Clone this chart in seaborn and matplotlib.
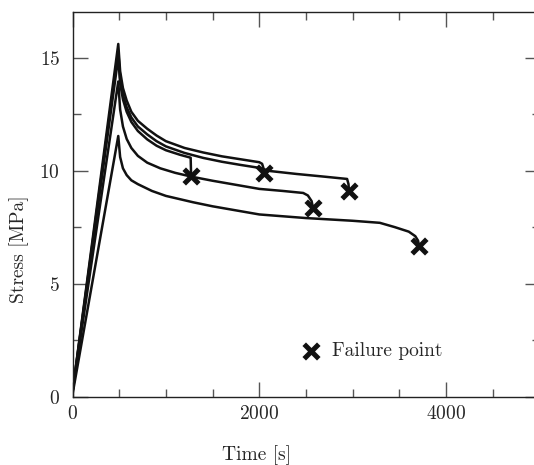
import numpy as np
import pandas as pd
import matplotlib
matplotlib.use("Agg")
import matplotlib.pyplot as plt
import seaborn as sns
from matplotlib.ticker import MultipleLocator

# ---- data ----
t_A = [0, 490, 510, 540, 580, 630, 700, 800, 900, 1000, 1200, 1400, 1600, 1800, 2000, 2030, 2045, 2050]
s_A = [0.2, 15.6, 14.4, 13.65, 13.1, 12.6, 12.2, 11.85, 11.55, 11.3, 11.0, 10.8, 10.63, 10.5, 10.37, 10.3, 10.1, 9.9]

t_B = [0, 490, 510, 540, 580, 630, 700, 800, 900, 1000, 1200, 1400, 1600, 1800, 2000, 2115, 2400, 2700, 2940, 2955, 2960]
s_B = [0.2, 15.3, 14.1, 13.35, 12.8, 12.35, 11.95, 11.6, 11.3, 11.07, 10.78, 10.56, 10.39, 10.25, 10.12, 9.98, 9.85, 9.73, 9.63, 9.4, 9.1]

t_C = [0, 490, 510, 540, 580, 630, 700, 800, 900, 1000, 1150, 1265, 1270]
s_C = [0.2, 15.0, 13.85, 13.15, 12.6, 12.15, 11.75, 11.38, 11.1, 10.9, 10.7, 10.57, 9.76]

t_D = [0, 490, 510, 540, 580, 630, 700, 800, 940, 1100, 1275, 1500, 1750, 2000, 2250, 2470, 2520, 2560, 2575]
s_D = [0.2, 13.94, 12.7, 11.95, 11.4, 11.0, 10.65, 10.35, 10.1, 9.9, 9.73, 9.55, 9.37, 9.19, 9.1, 9.01, 8.9, 8.65, 8.35]

t_E = [0, 490, 510, 540, 580, 630, 700, 755, 850, 1000, 1290, 1500, 2000, 2500, 3000, 3290, 3450, 3600, 3670, 3700, 3710]
s_E = [0.1, 11.53, 10.6, 10.1, 9.8, 9.57, 9.4, 9.29, 9.1, 8.88, 8.6, 8.42, 8.06, 7.9, 7.78, 7.69, 7.5, 7.3, 7.1, 6.9, 6.66]

fail_t = [2050, 2960, 1270, 2575, 3710]
fail_s = [9.9, 9.1, 9.76, 8.35, 6.66]

x_ticks = [0, 2000, 4000]
y_ticks = [0, 5, 10, 15]

# ---- build table ----
frames = []
for name, t, s in [("A", t_A, s_A), ("B", t_B, s_B), ("C", t_C, s_C), ("D", t_D, s_D), ("E", t_E, s_E)]:
    frames.append(pd.DataFrame({"time": t, "stress": s, "curve": name}))
df = pd.concat(frames, ignore_index=True)
fail_df = pd.DataFrame({"time": fail_t, "stress": fail_s})

sns.set_style("ticks")
plt.rcParams["font.family"] = ["cmr10", "DejaVu Serif"]
plt.rcParams["axes.formatter.use_mathtext"] = True
plt.rcParams["mathtext.fontset"] = "cm"

fig = plt.figure(figsize=(5.34, 4.65), dpi=100)
W, H = 534, 465
x0, x1, ytop, ybot = 72.5, 539.5, 12.3, 396.7
ax = fig.add_axes([x0 / W, 1 - ybot / H, (x1 - x0) / W, (ybot - ytop) / H])

sns.lineplot(data=df, x="time", y="stress", units="curve", estimator=None,
             sort=False, color="#111111", linewidth=1.8, ax=ax, legend=False)
sns.scatterplot(data=fail_df, x="time", y="stress", marker="x", s=110,
                linewidth=3.6, color="#111111", ax=ax, label="Failure point", zorder=5)

ax.set_xlim(0, 5000)
ax.set_ylim(0, 17)
ax.set_xticks(x_ticks)
ax.set_yticks(y_ticks)
ax.xaxis.set_minor_locator(MultipleLocator(500))
ax.yaxis.set_minor_locator(MultipleLocator(2.5))
ax.tick_params(which="both", direction="in", top=True, right=True, labelsize=14,
               color="#555555", width=1.0)
ax.tick_params(which="major", length=11)
ax.tick_params(which="minor", length=6)
ax.tick_params(axis="x", pad=6)
ax.tick_params(axis="y", pad=9)
for sp in ax.spines.values():
    sp.set_linewidth(1.0)
    sp.set_color("#222222")

ax.set_xlabel("Time [s]", fontsize=14)
ax.set_ylabel("Stress [MPa]", fontsize=14)
ax.xaxis.set_label_coords((256 - x0) / (x1 - x0), (ybot - 445) / (ybot - ytop))
ax.yaxis.set_label_coords((29 - x0) / (x1 - x0), (ybot - 249) / (ybot - ytop))

leg = ax.legend(loc="center left", bbox_to_anchor=((301 - x0) / (x1 - x0), (ybot - 351) / (ybot - ytop)),
                frameon=False, fontsize=14, handlelength=1.0, handletextpad=0.6,
                borderpad=0, borderaxespad=0)

fig.savefig("out.png", dpi=100)
